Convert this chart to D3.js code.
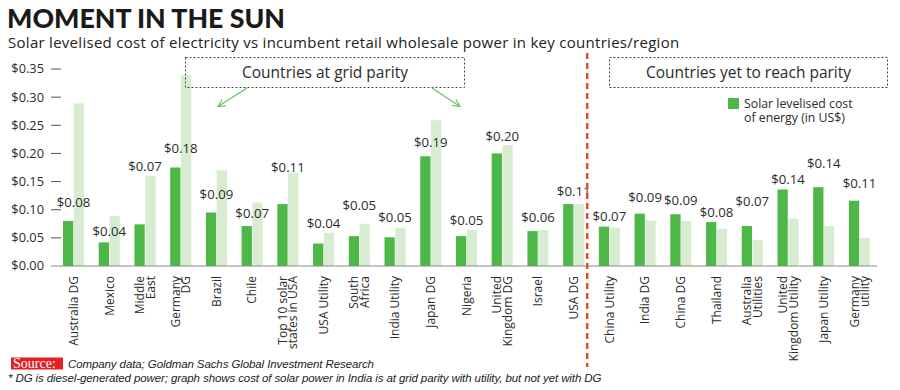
<!DOCTYPE html>
<html>
<head>
<meta charset="utf-8">
<script src="https://cdn.jsdelivr.net/npm/d3@7"></script>
<style>
  html, body { margin: 0; padding: 0; background: #fff; }
  svg { display: block; }
  text { fill: #2b2b2b; }
</style>
</head>
<body>
<div id="chart"></div>
<script>
// ---------- data ----------
const categories = [
  "Australia DG", "Mexico", "Middle\nEast", "Germany\nDG", "Brazil", "Chile",
  "Top 10 solar\nstates in USA", "USA Utility", "South\nAfrica", "India Utility",
  "Japan DG", "Nigeria", "United\nKingdom DG", "Israel", "USA DG",
  "China Utility", "India DG", "China DG", "Thailand", "Australia\nUtilities",
  "United\nKingdom Utility", "Japan Utility", "Germany\nutility"
];
const solarCost = [0.080, 0.042, 0.074, 0.175, 0.095, 0.071, 0.110, 0.040, 0.053, 0.051,
  0.195, 0.053, 0.200, 0.062, 0.110, 0.070, 0.093, 0.092, 0.078, 0.071, 0.136, 0.140, 0.116];
const incumbentPower = [0.289, 0.089, 0.160, 0.339, 0.170, 0.113, 0.166, 0.059, 0.075, 0.068,
  0.259, 0.064, 0.215, 0.064, 0.110, 0.068, 0.081, 0.080, 0.066, 0.046, 0.084, 0.071, 0.050];
const solarLabels = ["$0.08", "$0.04", "$0.07", "$0.18", "$0.09", "$0.07", "$0.11", "$0.04",
  "$0.05", "$0.05", "$0.19", "$0.05", "$0.20", "$0.06", "$0.11", "$0.07", "$0.09", "$0.09",
  "$0.08", "$0.07", "$0.14", "$0.14", "$0.11"];
// value level (in US$) at which each data label sits in the original
const labelLevel = [0.105, 0.054, 0.169, 0.200, 0.119, 0.085, 0.1675, 0.0675, 0.0995, 0.0776,
  0.211, 0.073, 0.222, 0.079, 0.124, 0.0794, 0.113, 0.109, 0.0876, 0.107, 0.145, 0.1736, 0.1386];
const yTicks = [0, 0.05, 0.10, 0.15, 0.20, 0.25, 0.30, 0.35];
const series = ["Solar levelised cost of energy (in US$)", "Incumbent retail/wholesale power"];
const gridParityLast = "USA DG";

// ---------- layout ----------
const W = 900, H = 390;
const C = { dark: "#4db848", light: "#d8ecd2", red: "#e0502a", arrow: "#5cbf5a", axis: "#8a8a8a" };
const FONT = "'Open Sans', sans-serif";

const svg = d3.select("#chart").append("svg").attr("width", W).attr("height", H)
  .style("font-family", FONT);

const x = d3.scaleBand().domain(categories).range([63, 870]).paddingInner(0.41).paddingOuter(0);
const x1 = d3.scaleBand().domain(series).range([0, x.bandwidth()]).paddingInner(0.05);
const y = d3.scaleLinear().domain([0, 0.35]).range([266, 69]);

// title
svg.append("text").attr("x", 7).attr("y", 28)
  .style("font-family", "Lato, sans-serif").style("font-weight", 900).style("font-size", "26.7px")
  .style("fill", "#1a1a1a").text("MOMENT IN THE SUN");
svg.append("text").attr("x", 8).attr("y", 47.5)
  .style("font-size", "15px").style("letter-spacing", "0.28px").style("fill", "#222")
  .text("Solar levelised cost of electricity vs incumbent retail wholesale power in key countries/region");

// y axis
const yAxis = svg.append("g");
yTicks.forEach(t => {
  yAxis.append("text").attr("x", 44).attr("y", y(t)).attr("dy", "0.35em")
    .attr("text-anchor", "end").style("font-size", "12.8px").text("$" + t.toFixed(2));
  if (t > 0) yAxis.append("line").attr("x1", 51).attr("x2", 61)
    .attr("y1", y(t)).attr("y2", y(t)).attr("stroke", "#555").attr("stroke-width", 1);
});

// bars
const groups = svg.append("g").selectAll("g").data(categories).join("g")
  .attr("transform", d => `translate(${x(d)},0)`);
groups.append("rect").attr("x", x1(series[1])).attr("width", x1.bandwidth())
  .attr("y", (d, i) => y(incumbentPower[i])).attr("height", (d, i) => y(0) - y(incumbentPower[i]))
  .attr("fill", C.light);
groups.append("rect").attr("x", x1(series[0])).attr("width", x1.bandwidth())
  .attr("y", (d, i) => y(solarCost[i])).attr("height", (d, i) => y(0) - y(solarCost[i]))
  .attr("fill", C.dark);
groups.append("text").attr("x", x.bandwidth() / 2).attr("y", (d, i) => y(labelLevel[i]))
  .attr("text-anchor", "middle").style("font-size", "13.2px").text((d, i) => solarLabels[i]);

// baseline
svg.append("line").attr("x1", 51).attr("x2", 877).attr("y1", y(0)).attr("y2", y(0))
  .attr("stroke", C.axis).attr("stroke-width", 1.2);

// category labels (rotated)
const lineH = 10.5;
categories.forEach(c => {
  const lines = c.split("\n");
  const g = svg.append("g")
    .attr("transform", `translate(${x(c) + x.bandwidth() / 2},276) rotate(-90)`);
  lines.forEach((ln, i) => {
    g.append("text").attr("x", 0).attr("y", (i - (lines.length - 1) / 2) * lineH)
      .attr("dy", "0.36em").attr("text-anchor", "end").style("font-size", "12px").text(ln);
  });
});

// separator
const sepX = x(gridParityLast) + x.bandwidth() + 3;
svg.append("line").attr("x1", sepX).attr("x2", sepX).attr("y1", 53).attr("y2", 367)
  .attr("stroke", C.red).attr("stroke-width", 2.5).attr("stroke-dasharray", "6,4");

// annotation boxes
function dottedBox(x0, y0, x2, y2, label) {
  svg.append("rect").attr("x", x0).attr("y", y0).attr("width", x2 - x0).attr("height", y2 - y0)
    .attr("fill", "none").attr("stroke", "#444").attr("stroke-width", 1).attr("stroke-dasharray", "2,2");
  svg.append("text").attr("x", (x0 + x2) / 2).attr("y", (y0 + y2) / 2).attr("dy", "0.35em")
    .attr("text-anchor", "middle").style("font-size", "15.5px").text(label);
}
dottedBox(185.5, 57.5, 464.5, 87.5, "Countries at grid parity");
dottedBox(609.5, 57.5, 887.5, 87.5, "Countries yet to reach parity");

// arrows
const defs = svg.append("defs");
defs.append("marker").attr("id", "arr").attr("viewBox", "0 0 10 10").attr("refX", 9).attr("refY", 5)
  .attr("markerWidth", 9).attr("markerHeight", 9).attr("orient", "auto-start-reverse")
  .attr("markerUnits", "userSpaceOnUse")
  .append("path").attr("d", "M1,1 L9,5 L1,9").attr("fill", "none").attr("stroke", C.arrow).attr("stroke-width", 1.2);
[[247, 88, 218, 106.5], [432, 88, 460, 106.5]].forEach(a => {
  svg.append("line").attr("x1", a[0]).attr("y1", a[1]).attr("x2", a[2]).attr("y2", a[3])
    .attr("stroke", C.arrow).attr("stroke-width", 1.1).attr("marker-end", "url(#arr)");
});

// legend
svg.append("rect").attr("x", 728).attr("y", 98).attr("width", 11).attr("height", 11).attr("fill", C.dark);
const legText = svg.append("text").attr("x", 744).attr("y", 107.5).style("font-size", "12.3px");
legText.append("tspan").attr("x", 744).attr("dy", 0).text("Solar levelised cost");
legText.append("tspan").attr("x", 744).attr("dy", 14.5).text("of energy (in US$)");

// footer
svg.append("rect").attr("x", 11).attr("y", 357.5).attr("width", 52).attr("height", 12).attr("fill", "#e41f26");
svg.append("text").attr("x", 13).attr("y", 368).style("font-family", "'Liberation Serif', serif")
  .style("font-size", "14px").style("fill", "#fff").text("Source:");
svg.append("text").attr("x", 68).attr("y", 368)
  .style("font-family", "'Liberation Sans Narrow', sans-serif").style("font-style", "italic")
  .style("font-size", "11.5px").style("letter-spacing", "-0.1px").style("fill", "#222")
  .text("Company data; Goldman Sachs Global Investment Research");
svg.append("text").attr("x", 8).attr("y", 382)
  .style("font-family", "'Liberation Sans Narrow', sans-serif").style("font-style", "italic")
  .style("font-size", "11.5px").style("letter-spacing", "-0.1px").style("fill", "#222")
  .text("* DG is diesel-generated power; graph shows cost of solar power in India is at grid parity with utility, but not yet with DG");
</script>
</body>
</html>
